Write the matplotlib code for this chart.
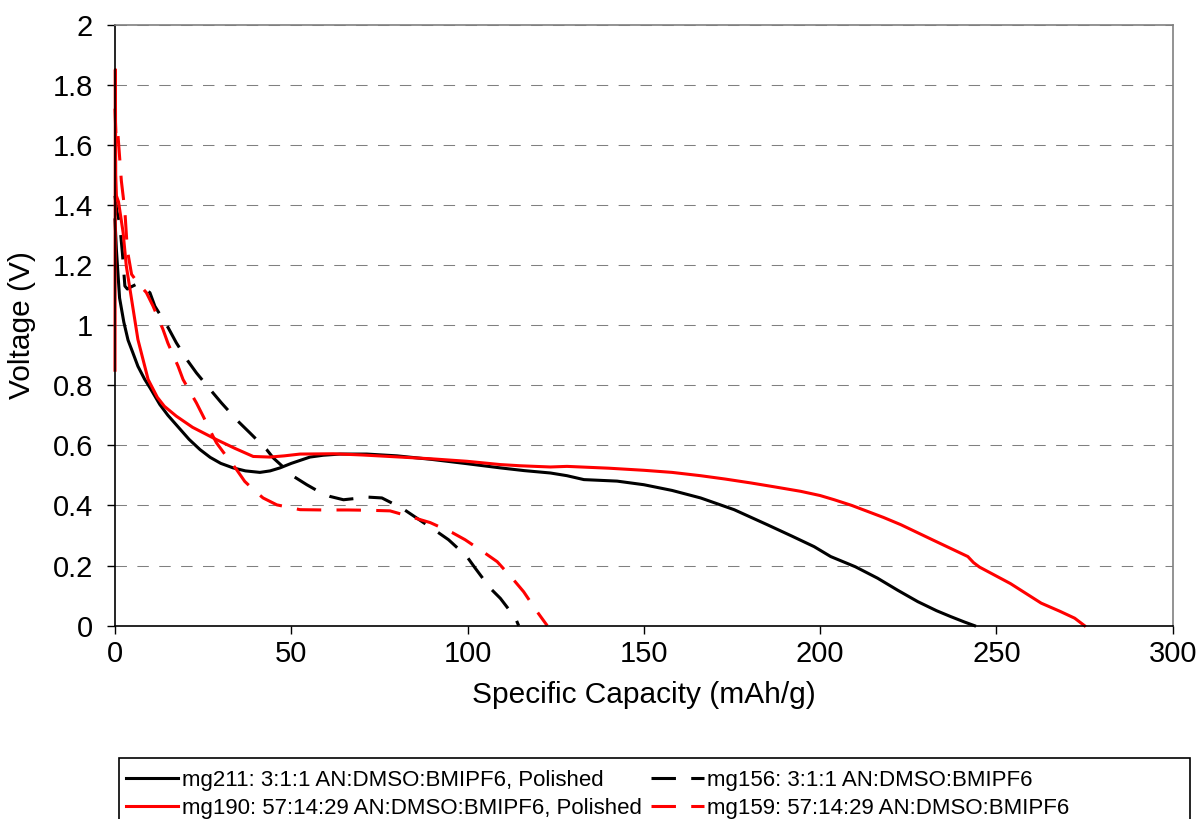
import matplotlib
matplotlib.use("Agg")
import matplotlib.pyplot as plt
from matplotlib.ticker import FuncFormatter, MultipleLocator
from matplotlib.patches import Rectangle

plt.rcParams['font.family'] = ['Liberation Sans', 'DejaVu Sans']

# mg211: 3:1:1 AN:DMSO:BMIPF6, Polished (black solid)
mg211_x = [0, 0.4, 1.3, 2.5, 3.7, 5, 6.5, 8.4, 10, 12.7, 15, 18, 21, 24.1, 27, 30, 33.5, 37,
           41.1, 44, 46.8, 50, 55.3, 59, 63.8, 71.4, 80, 90, 99.8, 109.3, 116, 123.5, 128.2,
           133, 142.4, 150, 158, 166.1, 175.6, 185, 192, 198.3, 203, 210, 216.3, 222, 227.7,
           233, 237.1, 241, 243.8]
mg211_y = [1.35, 1.25, 1.09, 1.01, 0.95, 0.91, 0.863, 0.82, 0.79, 0.736, 0.7, 0.66, 0.62,
           0.586, 0.56, 0.54, 0.525, 0.515, 0.51, 0.515, 0.525, 0.54, 0.561, 0.567, 0.571,
           0.571, 0.565, 0.553, 0.539, 0.525, 0.516, 0.508, 0.499, 0.486, 0.481, 0.469, 0.45,
           0.425, 0.386, 0.336, 0.298, 0.263, 0.23, 0.196, 0.158, 0.118, 0.08, 0.05, 0.03,
           0.012, 0.0]

# mg156: 3:1:1 AN:DMSO:BMIPF6 (black dashed)
mg156_x = [0, 0.5, 1.3, 2.1, 2.8, 3.5, 4.2, 6.1, 7, 9.9, 11.3, 15.1, 17.4, 20.7, 23.1, 27.4,
           30.2, 34.9, 38.3, 43, 44.9, 50.6, 54.4, 58, 61, 64.8, 68, 71.4, 75.7, 81.4, 85.6,
           91.3, 94.6, 99.8, 102.2, 106.4, 109.3, 113.6, 114.5]
mg156_y = [1.43, 1.38, 1.341, 1.24, 1.13, 1.12, 1.125, 1.136, 1.13, 1.108, 1.063, 0.991,
           0.941, 0.88, 0.841, 0.78, 0.741, 0.68, 0.641, 0.586, 0.558, 0.497, 0.469, 0.445,
           0.43, 0.419, 0.423, 0.428, 0.425, 0.391, 0.358, 0.313, 0.286, 0.23, 0.191, 0.125,
           0.091, 0.025, 0.0]

# mg190: 57:14:29 AN:DMSO:BMIPF6, Polished (red solid)
mg190_x = [0, 0.1, 0.2, 0.4, 1.0, 2.3, 3.2, 4.7, 6.5, 9.4, 12, 14, 17.4, 22, 28.8, 34, 39.2,
           43.9, 48, 52.5, 61.9, 70, 80.9, 90, 99.8, 109.3, 115, 123.5, 128.2, 140, 150, 158,
           166.1, 173, 180.3, 187, 194.5, 200, 204, 209, 213.5, 218, 222.9, 232, 241.9, 243.5,
           245.2, 254, 262.7, 268, 272.2, 275]
mg190_y = [0.85, 1.85, 1.5, 1.43, 1.41, 1.308, 1.197, 1.086, 0.952, 0.819, 0.76, 0.73, 0.697,
           0.66, 0.619, 0.59, 0.563, 0.561, 0.565, 0.571, 0.572, 0.568, 0.561, 0.555, 0.547,
           0.536, 0.532, 0.528, 0.53, 0.524, 0.517, 0.51, 0.499, 0.488, 0.475, 0.462, 0.447,
           0.433, 0.419, 0.4, 0.38, 0.36, 0.336, 0.285, 0.23, 0.21, 0.195, 0.14, 0.075, 0.048,
           0.025, 0.0]

# mg159: 57:14:29 AN:DMSO:BMIPF6 (red dashed)
mg159_x = [0, 0.3, 0.8, 1.3, 1.8, 2.3, 2.8, 3.5, 4.7, 6.5, 8.9, 10.8, 13.6, 15, 17.9, 19.3,
           23.1, 25, 27.8, 28.8, 31.5, 34.5, 36.8, 39.5, 42, 45.9, 52.5, 59, 66, 72, 78, 79.5,
           85.1, 89.4, 95.6, 99.3, 105, 108.4, 113.1, 115.9, 119.7, 122.6]
mg159_y = [1.72, 1.62, 1.64, 1.56, 1.48, 1.43, 1.38, 1.25, 1.169, 1.14, 1.108, 1.063, 0.986,
           0.94, 0.863, 0.819, 0.741, 0.697, 0.63, 0.608, 0.565, 0.519, 0.48, 0.45, 0.425,
           0.402, 0.386, 0.385, 0.385, 0.384, 0.382, 0.377, 0.358, 0.343, 0.31, 0.286, 0.241,
           0.213, 0.152, 0.113, 0.047, 0.0]

labels = ["mg211: 3:1:1 AN:DMSO:BMIPF6, Polished",
          "mg156: 3:1:1 AN:DMSO:BMIPF6",
          "mg190: 57:14:29 AN:DMSO:BMIPF6, Polished",
          "mg159: 57:14:29 AN:DMSO:BMIPF6"]

W, H = 1200, 819
fig = plt.figure(figsize=(W / 100, H / 100), dpi=100)
ax = fig.add_axes([115 / W, 1 - 625.7 / H, (1172.7 - 115) / W, (625.7 - 24.5) / H])

lw = 2.2
dash = (0, (8, 5))
l1, = ax.plot(mg211_x, mg211_y, color='black', lw=lw, label=labels[0])
l2, = ax.plot(mg156_x, mg156_y, color='black', lw=lw, ls=dash, label=labels[1])
l3, = ax.plot(mg190_x, mg190_y, color='#ff0000', lw=lw, label=labels[2])
l4, = ax.plot(mg159_x, mg159_y, color='#ff0000', lw=lw, ls=dash, label=labels[3])
for ln in (l1, l2, l3, l4):
    ln.set_clip_on(False)

ax.set_xlim(0, 300)
ax.set_ylim(0, 2)
ax.xaxis.set_major_locator(MultipleLocator(50))
ax.yaxis.set_major_locator(MultipleLocator(0.2))
fmt = FuncFormatter(lambda v, p: "%g" % round(v, 2))
ax.xaxis.set_major_formatter(fmt)
ax.yaxis.set_major_formatter(fmt)

ax.yaxis.grid(True, color='#808080', lw=0.75, ls=(0, (11, 10)))
ax.set_axisbelow(True)

ax.spines['left'].set_color('black')
ax.spines['bottom'].set_color('black')
ax.spines['top'].set_color('#808080')
ax.spines['right'].set_color('#808080')
for s in ax.spines.values():
    s.set_linewidth(1.2)

ax.tick_params(axis='y', direction='out', length=6, width=1, pad=10, labelsize=21)
ax.tick_params(axis='x', direction='out', length=6, width=1, pad=4, labelsize=21)

ax.set_xlabel("Specific Capacity (mAh/g)", fontsize=21.5, labelpad=10)
ax.set_ylabel("Voltage (V)", fontsize=21.5, labelpad=12)

# legend frame box (runs past the bottom edge)
fig.patches.append(Rectangle((119 / W, 1 - 835 / H), (1190 - 119) / W, (835 - 757.5) / H,
                             transform=fig.transFigure, fill=False, ec='black', lw=1.2))
fig.legend([l1, l3, l2, l4], [labels[0], labels[2], labels[1], labels[3]],
           ncol=2, loc='upper left', bbox_to_anchor=(126 / W, 1 - 770 / H),
           frameon=False, fontsize=16, handlelength=2.35, handletextpad=0.15,
           columnspacing=0.45, labelspacing=0.3, borderpad=0, borderaxespad=0)

fig.savefig("out.png", dpi=100)
